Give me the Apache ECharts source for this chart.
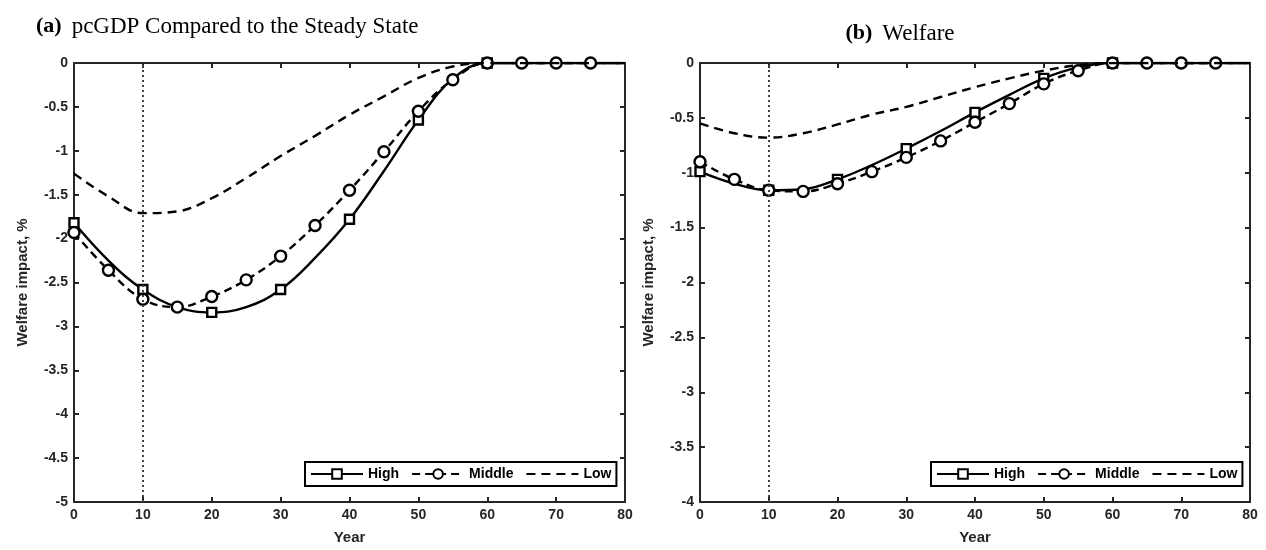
<!DOCTYPE html>
<html>
<head>
<meta charset="utf-8">
<script src="https://cdn.jsdelivr.net/npm/echarts@6/dist/echarts.min.js"></script>
<style>html,body{margin:0;padding:0;background:#fff}#c{width:1266px;height:550px}</style>
</head>
<body>
<div id="c"></div>
<script>
// ---- data ----
const years = [0,5,10,15,20,25,30,35,40,45,50,55,60,65,70,75,80];
const gdpHigh   = [-1.82,-2.25,-2.58,-2.78,-2.84,-2.78,-2.58,-2.22,-1.78,-1.23,-0.65,-0.18,0,0,0,0,0];
const gdpMiddle = [-1.93,-2.36,-2.69,-2.78,-2.66,-2.47,-2.20,-1.85,-1.45,-1.01,-0.55,-0.19,0,0,0,0,0];
const gdpLow    = [-1.26,-1.52,-1.71,-1.69,-1.54,-1.31,-1.06,-0.83,-0.59,-0.38,-0.17,-0.04,0,0,0,0,0];
const welHigh   = [-0.99,-1.10,-1.16,-1.15,-1.06,-0.93,-0.78,-0.62,-0.45,-0.29,-0.14,-0.04,0,0,0,0,0];
const welMiddle = [-0.90,-1.06,-1.16,-1.17,-1.10,-0.99,-0.86,-0.71,-0.54,-0.37,-0.19,-0.07,0,0,0,0,0];
const welLow    = [-0.55,-0.64,-0.68,-0.64,-0.56,-0.47,-0.40,-0.31,-0.22,-0.14,-0.07,-0.02,0,0,0,0,0];
const highMarkerYears = [0,10,20,30,40,50,60];
const middleMarkerYears = [0,5,10,15,20,25,30,35,40,45,50,55,60,65,70,75];
const gdpYRange = [-5, 0];
const welYRange = [-4, 0];
const shockYear = 10;
const seriesNames = ['High','Middle','Low'];

const AX = '#262626';
const FONT = 'Liberation Sans, Arial, sans-serif';
const SERIF = 'Liberation Serif, serif';
const fmt = v => String(Math.round(v * 10) / 10);
const withMarkers = (xs, ys, keep) => xs.map((x, i) =>
  keep.indexOf(x) >= 0 ? [x, ys[i]] : {value: [x, ys[i]], symbol: 'none'});

function axesFor(gi, yr) {
  const common = {
    axisLine: {show: true, onZero: false, lineStyle: {color: AX, width: 2}},
    axisTick: {show: true, inside: true, length: 5, lineStyle: {color: AX, width: 2}},
    splitLine: {show: false}
  };
  const xa = [
    Object.assign({type: 'value', gridIndex: gi, min: 0, max: 80, interval: 10, position: 'bottom',
      name: 'Year', nameLocation: 'middle', nameGap: 28,
      nameTextStyle: {fontFamily: FONT, fontWeight: 'bold', fontSize: 15, color: AX},
      axisLabel: {fontFamily: FONT, fontWeight: 'bold', fontSize: 14, color: AX, margin: 6}}, common),
    Object.assign({type: 'value', gridIndex: gi, min: 0, max: 80, interval: 10, position: 'top',
      axisLabel: {show: false}}, common)
  ];
  const ya = [
    Object.assign({type: 'value', gridIndex: gi, min: yr[0], max: yr[1], interval: 0.5, position: 'left',
      name: 'Welfare impact, %', nameLocation: 'middle', nameGap: 44,
      nameTextStyle: {fontFamily: FONT, fontWeight: 'bold', fontSize: 15, color: AX},
      axisLabel: {fontFamily: FONT, fontWeight: 'bold', fontSize: 14, color: AX, margin: 6, formatter: fmt}}, common),
    Object.assign({type: 'value', gridIndex: gi, min: yr[0], max: yr[1], interval: 0.5, position: 'right',
      axisLabel: {show: false}}, common)
  ];
  return {xa, ya};
}

function seriesFor(ai, hi, mid, lo) {
  return [
    {name: 'High', type: 'line', xAxisIndex: ai, yAxisIndex: ai,
      data: withMarkers(years, hi, highMarkerYears), smooth: 0.4,
      symbol: 'rect', symbolSize: 9,
      itemStyle: {color: '#fff', borderColor: '#000', borderWidth: 2.4},
      lineStyle: {color: '#000', width: 2.4}, z: 3,
      markLine: {silent: true, symbol: ['none','none'], label: {show: false},
        lineStyle: {color: '#444', width: 2, type: [2, 3]}, data: [{xAxis: shockYear}], animation: false}},
    {name: 'Middle', type: 'line', xAxisIndex: ai, yAxisIndex: ai,
      data: withMarkers(years, mid, middleMarkerYears), smooth: 0.4,
      symbol: 'circle', symbolSize: 11,
      itemStyle: {color: '#fff', borderColor: '#000', borderWidth: 2.4},
      lineStyle: {color: '#000', width: 2.4, type: [8, 5]}, z: 4},
    {name: 'Low', type: 'line', xAxisIndex: ai, yAxisIndex: ai,
      data: years.map((x, i) => [x, lo[i]]), smooth: 0.4,
      symbol: 'none', itemStyle: {color: 'rgba(0,0,0,0)', borderWidth: 0},
      lineStyle: {color: '#000', width: 2.4, type: [9, 6]}, z: 5}
  ];
}

const a0 = axesFor(0, gdpYRange), a1 = axesFor(1, welYRange);
const legendCommon = {
  orient: 'horizontal', itemWidth: 52, itemHeight: 12, itemGap: 12,
  backgroundColor: '#fff', borderColor: '#000', borderWidth: 2, borderRadius: 0,
  padding: [5, 5, 5, 5],
  textStyle: {fontFamily: FONT, fontWeight: 'bold', fontSize: 14, color: '#000'},
  data: seriesNames
};
const titleRich = {
  a: {fontFamily: SERIF, fontWeight: 'bold', fontSize: 22, color: '#000', padding: [0, 10, 0, 0]},
  t: {fontFamily: SERIF, fontWeight: 'normal', fontSize: 23, color: '#000'}
};

const option = {
  animation: false,
  backgroundColor: '#fff',
  title: [
    {left: 31, top: 10, text: '{a|(a)}{t|pcGDP Compared to the Steady State}',
      textStyle: {fontWeight: 'normal', rich: titleRich}},
    {left: 895, top: 17, textAlign: 'center', text: '{a|(b)}{t|Welfare}',
      textStyle: {fontWeight: 'normal', rich: titleRich}}
  ],
  grid: [
    {left: 74, right: 641, top: 63, bottom: 47, containLabel: false},
    {left: 700, right: 16, top: 63, bottom: 47, containLabel: false}
  ],
  legend: [
    Object.assign({left: 305, top: 462}, legendCommon),
    Object.assign({left: 931, top: 462}, legendCommon)
  ],
  xAxis: [a0.xa[0], a0.xa[1], a1.xa[0], a1.xa[1]],
  yAxis: [a0.ya[0], a0.ya[1], a1.ya[0], a1.ya[1]],
  series: [].concat(seriesFor(0, gdpHigh, gdpMiddle, gdpLow), seriesFor(2, welHigh, welMiddle, welLow))
};
echarts.init(document.getElementById('c')).setOption(option);
</script>
</body>
</html>
